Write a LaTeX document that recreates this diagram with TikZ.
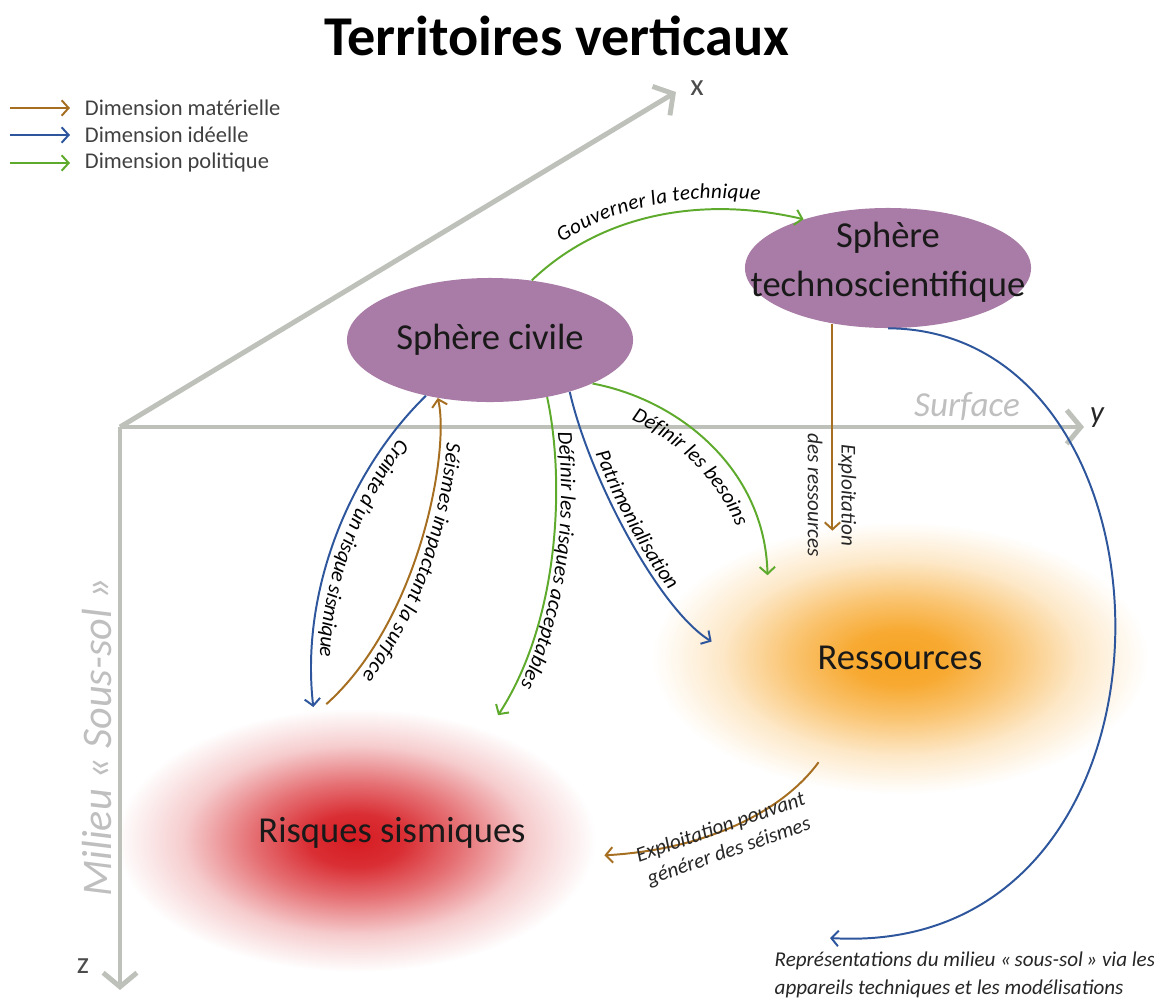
\documentclass[tikz,border=0pt]{standalone}
\usepackage{fontspec}
\setmainfont{Carlito}
\usetikzlibrary{arrows.meta,shapes.geometric,backgrounds,decorations.text}

\definecolor{spherecol}{RGB}{168,124,166}
\definecolor{matcol}{RGB}{166,110,32}
\definecolor{idecol}{RGB}{46,86,156}
\definecolor{polcol}{RGB}{94,170,44}
\definecolor{axiscol}{RGB}{189,193,186}
\definecolor{resorange}{RGB}{247,164,36}
\definecolor{risred}{RGB}{214,28,34}

\pgfdeclareradialshading{resglow}{\pgfpointorigin}{color(0bp)=(resorange); color(5bp)=(resorange!94); color(11bp)=(resorange!65); color(18bp)=(resorange!25); color(25bp)=(white); color(50bp)=(white)}
\pgfdeclareradialshading{risglow}{\pgfpointorigin}{color(0bp)=(risred); color(5bp)=(risred!92); color(11bp)=(risred!62); color(18bp)=(risred!22); color(25bp)=(white); color(50bp)=(white)}

\newcommand\labfont{\fontsize{15}{18}\selectfont\itshape}

\begin{document}
\begin{tikzpicture}[x=0.025cm,y=-0.025cm]
  \tikzset{sphere/.style = {shape=ellipse,fill=spherecol,inner sep=0pt}}
  \tikzset{bigtext/.style = {font=\fontsize{26}{35}\selectfont,align=center,text=black!90}}
  \tikzset{zone/.style = {shape=ellipse,inner sep=0pt,bigtext}}
  \tikzset{link/.style = {line width=1.4pt,-{Straight Barb[length=5pt,width=11pt]}}}
  \tikzset{linkback/.style = {line width=1.4pt,{Straight Barb[length=5pt,width=11pt]}-}}
  \tikzset{mat/.style = {link,draw=matcol}, ide/.style = {link,draw=idecol}, pol/.style = {link,draw=polcol}}
  \tikzset{along/.style 2 args = {postaction={decorate},decoration={text along path,text={|\labfont|#2},text align=center,raise=#1}}}
  \tikzset{lab/.style = {font=\labfont,inner sep=1pt,text=black!85}}
  \tikzset{legtext/.style = {font=\fontsize{16}{19}\selectfont,text=black!75,anchor=west}}
  \tikzset{axisline/.style = {draw=axiscol,line width=3.5pt,-{Straight Barb[length=10pt,width=24pt]}}}
  \tikzset{axislab/.style = {font=\fontsize{22}{26}\selectfont,text=black!70}}
  \tikzset{grey/.style = {font=\fontsize{25}{30}\selectfont\itshape,text=black!25}}

  \useasboundingbox (0,0) rectangle (1154,1005);

  \node[font=\bfseries\fontsize{40}{48}\selectfont] (title) at (557,36) {Territoires verticaux};

  % legend
  \foreach \y/\sty/\txt in {108/mat/Dimension matérielle, 135/ide/Dimension idéelle, 163/pol/Dimension politique}{
    \node[legtext] (leg\sty) at (80,\y) {\txt};
    \draw[\sty] ([xshift=-1.75cm]leg\sty.west) -- ([xshift=-0.25cm]leg\sty.west);
  }

  % axes
  \coordinate (O) at (120,427);
  \coordinate (xend) at (676,92);
  \coordinate (yend) at (1084,427);
  \coordinate (zend) at (120,990);
  \foreach \tip in {xend,yend,zend}
    \draw[axisline] (O) -- (\tip);
  \node[axislab] (xlab) at (697,88) {x};
  \node[axislab,font=\fontsize{22}{26}\selectfont\itshape,text=black!85] (ylab) at (1097,418) {y};
  \node[axislab] (zlab) at (83,966) {z};
  \node[grey] (surface) at (967,407) {Surface};
  \node[grey,rotate=90,font=\fontsize{30}{34}\selectfont\itshape] (soussol) at (97,737) {Milieu «~Sous-sol~»};

  % spheres and zones
  \node[sphere,minimum width=7.15cm,minimum height=3.1cm,bigtext] (civile) at (490,340) {Sphère civile};
  \node[sphere,minimum width=7.15cm,minimum height=3.0cm] (techno) at (888,268) {};
  \node[bigtext] (technotxt) at ([yshift=0.15cm]techno.center) {Sphère\\technoscientifique};
  \node[zone,minimum width=9.5cm,minimum height=5.75cm] (ressources) at (900,658) {Ressources};
  \node[zone,minimum width=10.75cm,minimum height=6.75cm] (risques) at (392,833) {Risques sismiques};

  \begin{scope}[on background layer]
    \shade[shading=resglow] (ressources.center) ellipse [x radius=6.2cm, y radius=3.4cm];
    \shade[shading=risglow] ([xshift=-0.9cm,yshift=-0.18cm]risques.center) ellipse [x radius=6cm, y radius=3.3cm];
  \end{scope}

  % connectors
  \coordinate (reprend) at (830,938);
  \draw[pol,along={8pt}{Gouverner la technique}] (civile.55) .. controls (600,215) and (700,195) .. (techno.150);
  \draw[ide,along={6pt}{Crainte d’un risque sismique}] (civile.221) .. controls (350,470) and (300,590) .. (risques.122);
  \draw[linkback,draw=matcol,along={5pt}{Séismes impactant la surface}] (civile.228) .. controls (450,450) and (420,620) .. (risques.117);
  \draw[pol,along={3.5pt}{Définir les risques acceptables}] (civile.-45) .. controls (565,480) and (560,620) .. (risques.48);
  \draw[ide,along={4pt}{Patrimonialisation}] (civile.-33) .. controls (590,480) and (660,610) .. (ressources.175);
  \draw[pol] (civile.-23) .. controls (680,400) and (765,470) .. (ressources.148);
  \path[along={0pt}{Définir les besoins}] ([xshift=-0.2cm,yshift=-0.5cm]civile.-23) .. controls (662,420) and (742,488) .. ([xshift=-0.5cm]ressources.148);
  \draw[mat,shorten >=0.3cm] (techno.225) -- (techno.225 |- ressources.north);
  \draw[mat] (ressources.232) .. controls (780,815) and (700,850) .. (risques.-6);
  \draw[ide] (techno.south) .. controls (1195,330) and (1205,960) .. (reprend);

  % labels
  \node[lab,rotate=-90,align=center,font=\fontsize{15}{24}\selectfont\itshape] (lexpl) at (832,495) {Exploitation\\des ressources};
  \node[lab,rotate=19,align=center] (lseisme) at (725,840) {Exploitation pouvant\\générer des séismes};
  \node[lab,align=left,anchor=north west,font=\fontsize{15}{20}\selectfont\itshape] (lrepr) at (773,950) {Représentations du milieu «\,sous-sol\,» via les\\appareils techniques et les modélisations};
\end{tikzpicture}
\end{document}
